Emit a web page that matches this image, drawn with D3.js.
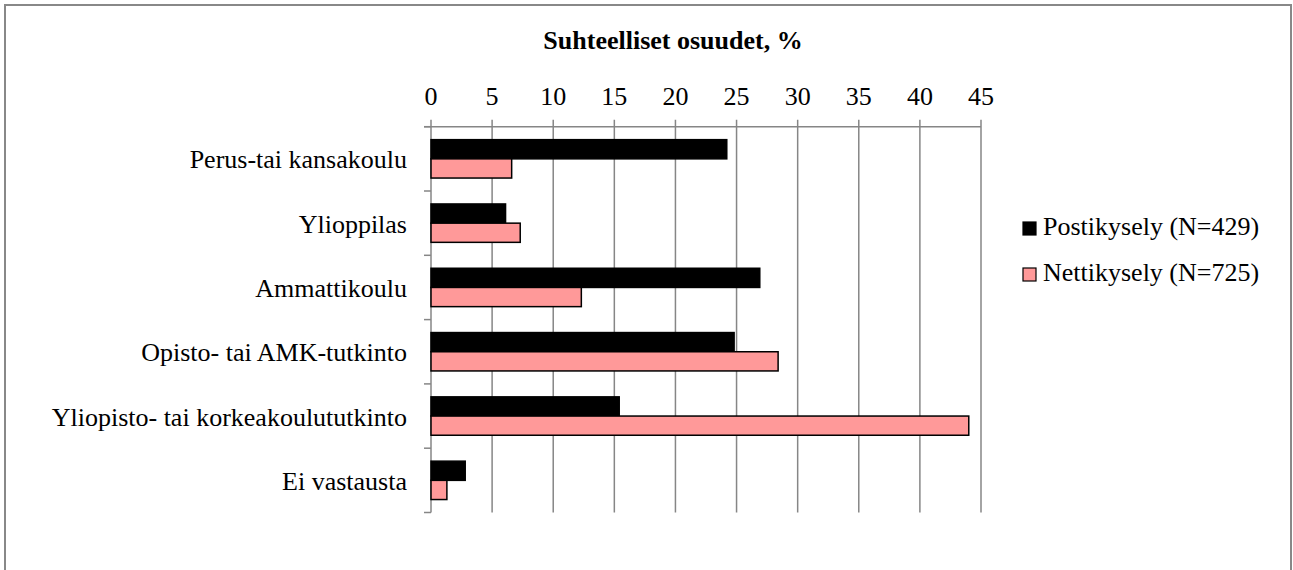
<!DOCTYPE html>
<meta charset="utf-8">
<style>
body { margin: 0; background: #fff; }
svg { font-family: 'Liberation Serif', Tinos, 'DejaVu Serif', serif; }
svg text { fill: #000; }
.tick text { font-size: 26px; }
.cat text { font-size: 26px; }
.legend text { font-size: 26px; }
.title { font-size: 26px; font-weight: bold; }
</style>
<svg width="1293" height="570"></svg>
<script src="https://d3js.org/d3.v7.min.js"></script>
<script>

	// data
	let categories = ["Perus-tai kansakoulu", "Ylioppilas", "Ammattikoulu", "Opisto- tai AMK-tutkinto", "Yliopisto- tai korkeakoulututkinto", "Ei vastausta"];
	let postiValues = [24.2, 6.1, 26.9, 24.8, 15.4, 2.8];
	let nettiValues = [6.6, 7.3, 12.3, 28.4, 44.0, 1.3];
	let seriesNames = ["Postikysely (N=429)", "Nettikysely (N=725)"];
	let tickValues = [0, 5, 10, 15, 20, 25, 30, 35, 40, 45];

	let colors = ["#000000", "#FF9999"];
	let series = [postiValues, nettiValues];

	let svg = d3.select("svg");

	// outer frame
	svg.append("rect")
		.attr("x", 5).attr("y", 5)
		.attr("width", 1286).attr("height", 600)
		.attr("fill", "none")
		.attr("stroke", "#888")
		.attr("stroke-width", 2);

	let x = d3.scaleLinear().domain([0, 45]).range([431, 981]);
	let y = d3.scaleBand().domain(categories).range([126.7, 512.5])
		.paddingInner(0.403).paddingOuter(0.2015);
	let ySub = d3.scaleBand().domain(d3.range(series.length)).range([0, y.bandwidth()]);

	let plotTop = y.range()[0], plotBottom = y.range()[1];

	// vertical gridlines + top ticks
	svg.append("g").selectAll("line")
		.data(tickValues)
		.enter().append("line")
		.attr("x1", d => x(d)).attr("x2", d => x(d))
		.attr("y1", plotTop - 7).attr("y2", plotBottom)
		.attr("stroke", "#868686").attr("stroke-width", 1.5);

	// top axis line
	svg.append("line")
		.attr("x1", x(0) - 7).attr("x2", x(45))
		.attr("y1", plotTop).attr("y2", plotTop)
		.attr("stroke", "#868686").attr("stroke-width", 1.5);

	// tick labels
	svg.append("g").attr("class", "tick").selectAll("text")
		.data(tickValues)
		.enter().append("text")
		.attr("x", d => x(d))
		.attr("y", 105)
		.attr("text-anchor", "middle")
		.text(d => d);

	// left axis ticks at band boundaries
	let bounds = categories.map(c => y(c) - y.step() * y.paddingOuter()).concat([plotBottom]);
	svg.append("g").selectAll("line")
		.data(bounds)
		.enter().append("line")
		.attr("x1", x(0) - 7).attr("x2", x(0))
		.attr("y1", d => d).attr("y2", d => d)
		.attr("stroke", "#868686").attr("stroke-width", 1.5);

	// bars
	let groups = svg.append("g").selectAll("g")
		.data(categories)
		.enter().append("g")
		.attr("transform", d => "translate(0," + y(d) + ")");

	groups.selectAll("rect")
		.data((d, i) => series.map((s, j) => ({ s: j, v: s[i] })))
		.enter().append("rect")
		.attr("x", x(0))
		.attr("y", d => ySub(d.s))
		.attr("width", d => x(d.v) - x(0))
		.attr("height", ySub.bandwidth())
		.attr("fill", d => colors[d.s])
		.attr("stroke", "#000")
		.attr("stroke-width", 1.5);

	// category labels
	svg.append("g").attr("class", "cat").selectAll("text")
		.data(categories)
		.enter().append("text")
		.attr("x", 407)
		.attr("y", d => y(d) + y.bandwidth() / 2 + 9.5)
		.attr("text-anchor", "end")
		.text(d => d);

	// title
	svg.append("text")
		.attr("class", "title")
		.attr("x", 673)
		.attr("y", 49)
		.attr("text-anchor", "middle")
		.text("Suhteelliset osuudet, %");

	// legend
	let legend = svg.append("g").attr("class", "legend").selectAll("g")
		.data(seriesNames)
		.enter().append("g")
		.attr("transform", (d, i) => "translate(1023," + (222 + i * 46) + ")");

	legend.append("rect")
		.attr("width", 13).attr("height", 13)
		.attr("fill", (d, i) => colors[i])
		.attr("stroke", "#000").attr("stroke-width", 1.2);

	legend.append("text")
		.attr("x", 20)
		.attr("y", 13)
		.text(d => d);

</script>
